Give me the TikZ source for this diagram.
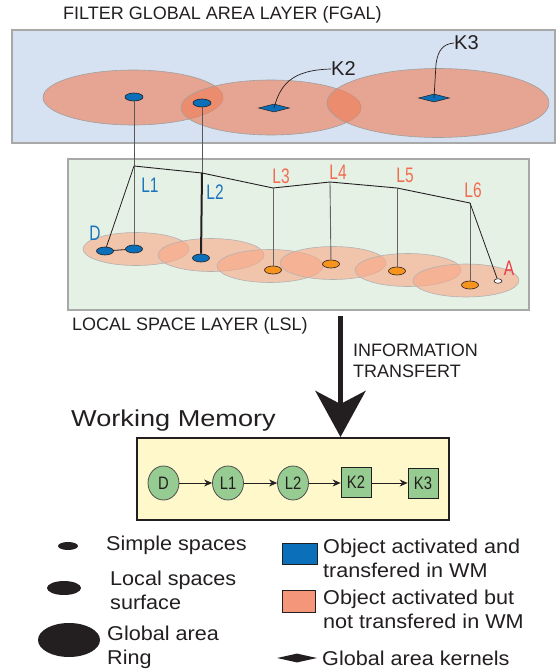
\documentclass[tikz,border=0pt]{standalone}
\usepackage{fontspec}
\setmainfont{Liberation Sans}
\newfontfamily\narrowfont[FakeStretch=0.74]{Liberation Sans}
\newfontfamily\wmnfont[FakeStretch=0.82]{Liberation Sans}
\newfontfamily\widefont[FakeStretch=1.18]{Liberation Sans}
\newfontfamily\legfont[FakeStretch=1.08]{Liberation Sans}
\usetikzlibrary{shapes.geometric,arrows.meta}
\definecolor{fgalbg}{HTML}{D6E2F1}
\definecolor{lslbg}{HTML}{E6F1E6}
\definecolor{boxline}{HTML}{A8A8A8}
\definecolor{ringfill}{HTML}{F07E58}
\definecolor{localfill}{HTML}{F9A786}
\definecolor{objblue}{HTML}{0B6FBA}
\definecolor{objorange}{HTML}{F7941D}
\definecolor{lblue}{HTML}{1C75BC}
\definecolor{lsalmon}{HTML}{F26C4F}
\definecolor{ared}{HTML}{EE3A43}
\definecolor{wmbg}{HTML}{FEF8CA}
\definecolor{wmnode}{HTML}{96CB91}
\definecolor{legsalmon}{HTML}{F4967A}
\definecolor{ink}{HTML}{231F20}
\tikzset{
  layerbox/.style={draw=boxline, line width=1.2pt},
  ring/.style={ellipse, draw=gray!75, line width=0.6pt, fill=ringfill, fill opacity=0.62, inner sep=0pt, minimum width=180pt, minimum height=55pt},
  localring/.style={ellipse, draw=gray!60, line width=0.6pt, fill=localfill, fill opacity=0.6, inner sep=0pt, minimum width=106pt, minimum height=33pt},
  fdot/.style={ellipse, draw=ink, line width=0.6pt, fill=objblue, inner sep=0pt, minimum width=18pt, minimum height=8pt},
  ldot/.style={ellipse, draw=ink, line width=0.6pt, inner sep=0pt, minimum width=17pt, minimum height=8pt},
  kernel/.style={diamond, draw=ink, line width=0.5pt, fill=objblue, inner sep=0pt, minimum width=31pt, minimum height=8pt},
  plbl/.style={font=\narrowfont\fontsize{21}{22}\selectfont, inner sep=0pt},
  hd/.style={font=\fontsize{18}{21}\selectfont, text=ink, inner sep=0pt},
  wmcirc/.style={ellipse, draw=ink!80, line width=0.8pt, fill=wmnode, inner sep=0pt, minimum width=31pt, minimum height=34pt, font=\wmnfont\fontsize{18}{20}\selectfont, text=ink},
  wmsq/.style={rectangle, draw=ink, line width=0.8pt, fill=wmnode, inner sep=0pt, minimum width=30pt, minimum height=30pt, font=\wmnfont\fontsize{18}{20}\selectfont, text=ink},
  wmarrow/.style={draw=ink, line width=0.7pt, -{Stealth[length=8pt,width=7pt]}},
  legtxt/.style={font=\legfont\fontsize{20}{24}\selectfont, text=ink, inner sep=0pt, align=left, anchor=west},
  vline/.style={draw=ink!75, line width=0.9pt}
}
\begin{document}
\begin{tikzpicture}[x=1pt,y=-1pt]
\useasboundingbox (0,0) rectangle (556,669);
\fill[white] (0,0) rectangle (556,669);

% ---------- FGAL ----------
\node[hd, anchor=west] (fgaltitle) at (63,15) {FILTER GLOBAL AREA LAYER (FGAL)};
\draw[layerbox, fill=fgalbg] (12,30) rectangle (555,143);
\node[ring] (r1) at (133,97.5) {};
\node[ring] (r2) at (271,107.5) {};
\node[ring, minimum width=222pt, minimum height=69pt] (r3) at (438,103) {};

% ---------- LSL ----------
\draw[layerbox, fill=lslbg] (68,159) rectangle (529,310);
\node[localring] (e1) at (136,249) {};
\node[localring] (e2) at (211,255) {};
\node[localring] (e3) at (270,266) {};
\node[localring] (e4) at (333,263) {};
\node[localring] (e5) at (408,270) {};
\node[localring] (e6) at (466,280.5) {};

% FGAL dots and kernels
\node[fdot] (f1) at (134,97) {};
\node[fdot] (f2) at (202,103) {};
\node[kernel] (k2d) at (274,108) {};
\node[kernel] (k3d) at (434,98) {};
\node[font=\fontsize{20}{22}\selectfont, text=ink, inner sep=0pt, anchor=west] (k2l) at (331,69) {K2};
\node[font=\fontsize{20}{22}\selectfont, text=ink, inner sep=0pt, anchor=west] (k3l) at (454,43) {K3};
\draw[ink, line width=0.7pt] (k2d.center) .. controls (280,86) and (290,70) .. (k2l.west);
\draw[ink, line width=0.7pt] (k3d.center) -- (436,64) .. controls (438,50) and (443,44) .. (k3l.west);

% junctions
\coordinate (j1) at (134,166);
\coordinate (j2) at (202,173);
\coordinate (j3) at (273,188);
\coordinate (j4) at (330,182);
\coordinate (j5) at (397,188);
\coordinate (j6) at (470,203);

% local dots
\node[ldot, fill=objblue] (dD) at (105,251) {};
\node[ldot, fill=objblue] (dL1) at (134,249) {};
\node[ldot, fill=objblue] (dL2) at (201,258) {};
\node[ldot, fill=objorange] (dL3) at (273,270) {};
\node[ldot, fill=objorange] (dL4) at (331,264) {};
\node[ldot, fill=objorange] (dL5) at (397,271) {};
\node[ldot, fill=objorange] (dL6) at (470,285) {};
\node[ellipse, draw=ink, line width=0.6pt, fill=white, inner sep=0pt, minimum width=8pt, minimum height=4.5pt] (dA) at (498,281) {};

% connectors
\draw[vline] (f1) -- (j1);
\draw[vline] (f2) -- (j2);
\draw[ink, line width=0.9pt] (j1) -- (j2) -- (j3) -- (j4) -- (j5) -- (j6);
\draw[ink, line width=0.8pt] (j1) -- (dD);
\draw[ink, line width=0.8pt] (dD) -- (dL1);
\draw[ink!70, line width=0.9pt] (j1) -- (dL1);
\draw[ink, line width=2pt] (j2) -- (dL2);
\draw[ink!70, line width=0.9pt] (j3) -- (dL3);
\draw[ink!70, line width=0.9pt] (j4) -- (dL4);
\draw[ink!70, line width=0.9pt] (j5) -- (dL5);
\draw[ink!70, line width=0.9pt] (j6) -- (dL6);
\draw[ink, line width=0.8pt] (j6) -- (dA);

% labels
\node[plbl, text=lblue] (tL1) at (150,185) {L1};
\node[plbl, text=lblue] (tL2) at (215,192) {L2};
\node[plbl, text=lsalmon] (tL3) at (281,176) {L3};
\node[plbl, text=lsalmon] (tL4) at (338,172) {L4};
\node[plbl, text=lsalmon] (tL5) at (405,175) {L5};
\node[plbl, text=lsalmon] (tL6) at (473,190) {L6};
\node[plbl, text=lblue] (tD) at (95,233) {D};
\node[plbl, text=ared] (tA) at (509,268) {A};

% ---------- transfer ----------
\node[hd, anchor=west] (lsltitle) at (72,326) {LOCAL SPACE LAYER (LSL)};
\node[hd, anchor=west, align=left] (info) at (353,360.5) {INFORMATION\\TRANSFERT};
\coordinate (atop) at (340.5,316);
\coordinate (atip) at (340.5,437);
\draw[ink, line width=5.5pt, -{Stealth[length=46pt,width=50pt,inset=13pt]}] (atop) -- (atip);

% ---------- Working memory ----------
\node[font=\widefont\fontsize{23}{25}\selectfont, text=ink, inner sep=0pt, anchor=west] (wmtitle) at (71,421) {Working Memory};
\draw[draw=ink, line width=1.1pt, fill=wmbg] (137,438) rectangle (449,520);
\node[wmcirc] (wD) at (163.5,483) {D};
\node[wmcirc] (wL1) at (228,483) {L1};
\node[wmcirc] (wL2) at (293,483) {L2};
\node[wmsq] (wK2) at (356,482) {K2};
\node[wmsq] (wK3) at (423,483) {K3};
\draw[wmarrow] (wD) -- (wL1);
\draw[wmarrow] (wL1) -- (wL2);
\draw[wmarrow] (wL2) -- (wK2.west |- wL2);
\draw[wmarrow] (wK2.east |- wL2) -- (wK3.west |- wL2);

% ---------- legend ----------
\node[ellipse, fill=ink, inner sep=0pt, minimum width=20pt, minimum height=8pt] (lg1) at (68,546) {};
\node[legtxt] (lt1) at (106,545) {Simple spaces};
\node[ellipse, fill=ink, inner sep=0pt, minimum width=34pt, minimum height=14pt] (lg2) at (64,588) {};
\node[legtxt] (lt2) at (110,590) {Local spaces\\surface};
\node[ellipse, fill=ink, inner sep=0pt, minimum width=62pt, minimum height=34pt] (lg3) at (69,640) {};
\node[legtxt] (lt3) at (107,647) {Global area\\Ring};
\node[rectangle, draw=ink, line width=0.9pt, fill=objblue, inner sep=0pt, minimum width=35pt, minimum height=21pt] (lg4) at (299.5,553.5) {};
\node[legtxt] (lt4) at (323,558) {Object activated and\\transfered in WM};
\node[rectangle, draw=ink, line width=0.9pt, fill=legsalmon, inner sep=0pt, minimum width=33pt, minimum height=22pt] (lg5) at (298.5,601) {};
\node[legtxt] (lt5) at (323,609) {Object activated but\\not transfered in WM};
\node[diamond, fill=ink, inner sep=0pt, minimum width=40pt, minimum height=9pt] (lg6) at (297,658) {};
\node[legtxt] (lt6) at (322,658) {Global area kernels};
\end{tikzpicture}
\end{document}
